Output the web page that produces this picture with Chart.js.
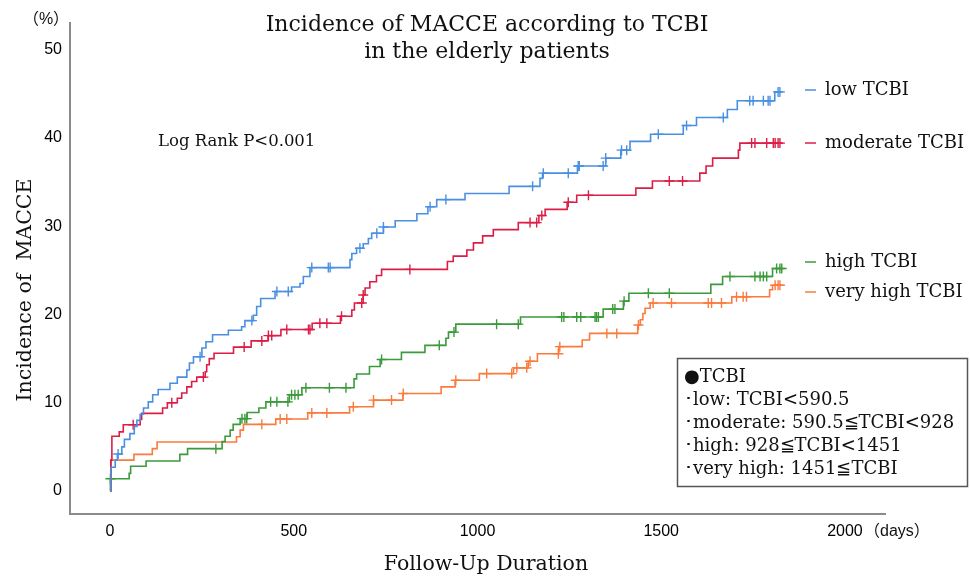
<!DOCTYPE html>
<html><head><meta charset="utf-8">
<script src="https://cdn.jsdelivr.net/npm/chart.js@4.4.1/dist/chart.umd.min.js"></script>
<style>html,body{margin:0;padding:0;background:#fff;}#wrap{width:970px;height:577px;}</style>
</head><body><div id="wrap"><canvas id="c" width="970" height="577"></canvas></div>
<script>
// ---- data ----
const xTicks = [0, 500, 1000, 1500, 2000];
const yTicks = [0, 10, 20, 30, 40, 50];
const seriesNames = ['low TCBI', 'moderate TCBI', 'high TCBI', 'very high TCBI'];

const lowDays = [0,2,14,20,32,39,54,66,73,82,91,104,116,131,163,183,209,216,227,250,261,279,322,358,367,390,399,410,449,494,517,526,544,653,658,671,689,703,712,744,776,835,865,889,966,1086,1170,1177,1272,1349,1390,1415,1471,1560,1596,1680,1707,1809,1828];
const lowVals = [0,2.7,3.5,4.2,5.0,5.85,6.5,7.3,8.0,8.7,9.4,10.1,10.9,11.5,12.2,12.9,13.7,14.5,15.2,16.2,16.9,17.7,18.2,18.6,19.3,19.9,20.9,21.8,22.6,23.1,23.5,24.3,25.3,26.2,26.9,27.5,28.0,28.6,29.2,29.9,30.6,31.4,32.2,33.0,33.7,34.5,35.4,36.0,36.8,37.7,38.6,39.6,40.4,41.4,42.3,43.2,44.2,45.2,45.2];
const lowCensorDays = [22,245,386,454,485,549,594,599,680,726,744,871,914,1150,1179,1247,1274,1277,1342,1349,1392,1406,1492,1569,1669,1741,1750,1778,1791,1796,1818,1823];
const lowCensorVals = [4.2,15.2,19.3,22.6,22.6,25.3,25.3,25.3,27.5,29.2,29.9,32.2,33.0,34.5,36.0,36.0,36.8,36.8,36.8,37.7,38.6,38.6,40.4,41.4,42.3,44.2,44.2,44.2,44.2,44.2,45.2,45.2];

const modDays = [0,2,5,25,36,82,86,143,156,183,195,209,222,236,259,263,270,283,336,384,430,465,550,627,658,665,689,694,707,725,739,918,934,971,989,1014,1043,1111,1167,1184,1244,1270,1431,1476,1605,1622,1640,1710,1714,1830];
const modVals = [0,3.5,6.2,6.7,7.5,8.1,8.8,9.4,10.0,10.5,11.1,11.8,12.4,12.9,13.5,14.3,15.0,15.6,16.3,17.0,17.6,18.3,19.0,19.8,20.5,21.3,22.2,23.0,23.7,24.4,25.1,26.0,26.6,27.3,28.1,28.9,29.6,30.4,31.2,31.9,32.7,33.5,34.3,35.1,36.0,36.8,37.7,38.6,39.4,39.4];
const modCensorDays = [63,168,254,365,413,431,440,481,540,544,571,590,630,685,689,816,1143,1161,1175,1247,1302,1522,1558,1746,1755,1787,1805,1810,1818,1823];
const modCensorVals = [7.5,10.0,12.9,16.3,17.0,17.6,17.6,18.3,18.3,18.3,19.0,19.0,19.8,21.3,22.2,25.1,30.4,30.4,31.2,32.7,33.5,35.1,35.1,39.4,39.4,39.4,39.4,39.4,39.4,39.4];

const highDays = [0,1,52,56,98,190,211,305,313,327,335,354,373,405,424,488,522,664,671,706,735,793,857,914,921,941,1117,1342,1397,1412,1635,1667,1803,1830];
const highVals = [0,1.4,2.0,2.8,3.4,4.15,4.8,5.6,6.2,6.9,7.55,8.2,8.9,9.4,10.1,10.9,11.7,12.7,13.25,14.1,14.9,15.7,16.5,17.3,18.0,18.9,19.7,20.6,21.5,22.4,23.4,24.3,25.2,25.2];
const highCensorDays = [1,288,359,367,372,437,454,484,494,503,512,533,597,642,739,896,936,1052,1111,1229,1235,1270,1281,1320,1324,1329,1368,1374,1399,1465,1522,1687,1755,1769,1778,1787,1814,1823,1828];
const highCensorVals = [1.4,4.8,8.2,8.2,8.2,10.1,10.1,10.1,10.9,10.9,10.9,11.7,11.7,11.7,14.9,16.5,18.0,18.9,18.9,19.7,19.7,19.7,19.7,19.7,19.7,19.7,20.6,20.6,21.5,22.4,22.4,24.3,24.3,24.3,24.3,24.3,25.2,25.2,25.2];

const vhighDays = [0,3,65,115,128,344,354,363,451,538,652,717,797,901,939,1005,1098,1138,1163,1221,1285,1305,1436,1443,1450,1456,1470,1692,1795,1803,1830];
const vhighVals = [0,3.5,4.15,4.8,5.55,6.15,6.9,7.55,8.15,8.85,9.55,10.3,11.05,11.8,12.55,13.3,13.95,14.7,15.55,16.35,17.1,17.85,18.8,19.4,20.1,20.7,21.3,22.0,22.8,23.3,23.3];
const vhighCensorDays = [413,463,481,549,590,662,717,766,798,941,1025,1093,1107,1134,1143,1220,1224,1352,1379,1438,1478,1528,1628,1637,1664,1705,1723,1732,1810,1818,1823];
const vhighCensorVals = [7.55,8.15,8.15,8.85,8.85,9.55,10.3,10.3,11.05,12.55,13.3,13.3,13.95,13.95,14.7,15.55,16.35,17.85,17.85,18.8,21.3,21.3,21.3,21.3,21.3,22.0,22.0,22.0,23.3,23.3,23.3];

const boxLines = ['●TCBI', '･low: TCBI<590.5', '･moderate: 590.5≦TCBI<928', '･high: 928≦TCBI<1451', '･very high: 1451≦TCBI'];

// ---- styling ----
const colors = ['#4a90e2', '#dc1d47', '#3b9a3b', '#fa7b3e'];
const SERIF = "'DejaVu Serif', 'Liberation Serif', serif";
const SANS = "'Liberation Sans', Arial, 'Noto Sans CJK JP', sans-serif";

function pts(xs, ys) { return xs.map((x, i) => ({ x: x, y: ys[i] })); }
const curves = [[lowDays, lowVals], [modDays, modVals], [highDays, highVals], [vhighDays, vhighVals]];
const censors = [[lowCensorDays, lowCensorVals], [modCensorDays, modCensorVals], [highCensorDays, highCensorVals], [vhighCensorDays, vhighCensorVals]];

const datasets = [];
curves.forEach((c, i) => {
  datasets.push({ label: seriesNames[i], data: pts(c[0], c[1]), borderColor: colors[i], borderWidth: 1.6,
    stepped: true, pointRadius: 0, fill: false, tension: 0 });
});
censors.forEach((c, i) => {
  datasets.push({ label: seriesNames[i] + ' censored', data: pts(c[0], c[1]), showLine: false,
    pointStyle: 'cross', pointRadius: 5, pointBorderWidth: 1.4, borderColor: colors[i], backgroundColor: colors[i] });
});

const legendY = [90, 143, 262, 292];

const textPlugin = {
  id: 'texts',
  afterDraw(chart) {
    const ctx = chart.ctx;
    ctx.save();
    ctx.fillStyle = '#111';
    ctx.textBaseline = 'middle';
    // title
    ctx.textAlign = 'center';
    ctx.font = '22px ' + SERIF;
    ctx.fillText('Incidence of MACCE according to TCBI', 487, 25);
    ctx.fillText('in the elderly patients', 487, 52);
    // unit labels
    ctx.font = '16px ' + SANS;
    ctx.fillText('（%）', 46, 20);
    ctx.textAlign = 'left';
    ctx.fillText('（days）', 864, 532);
    // axis titles
    ctx.textAlign = 'center';
    ctx.font = '20.5px ' + SERIF;
    ctx.fillText('Follow-Up Duration', 486, 565);
    ctx.save();
    ctx.translate(26, 290);
    ctx.rotate(-Math.PI / 2);
    ctx.fillText('Incidence of  MACCE', 0, 0);
    ctx.restore();
    // log rank
    ctx.textAlign = 'left';
    ctx.font = '16.5px ' + SERIF;
    ctx.fillText('Log Rank P<0.001', 158, 142);
    // legend
    ctx.font = '18px ' + SERIF;
    seriesNames.forEach((n, i) => {
      ctx.strokeStyle = colors[i];
      ctx.lineWidth = 1.5;
      ctx.beginPath();
      ctx.moveTo(805, legendY[i]);
      ctx.lineTo(816, legendY[i]);
      ctx.stroke();
      ctx.fillStyle = '#111';
      ctx.fillText(n, 825, legendY[i]);
    });
    // box
    ctx.strokeStyle = '#555';
    ctx.lineWidth = 1.5;
    ctx.strokeRect(677.5, 358.5, 290, 128);
    ctx.font = '18px ' + SERIF;
    boxLines.forEach((t, i) => {
      ctx.fillText(t, 684, 377 + i * 23);
    });
    ctx.restore();
  }
};

new Chart(document.getElementById('c'), {
  type: 'line',
  data: { datasets: datasets },
  options: {
    responsive: false,
    animation: false,
    devicePixelRatio: 1,
    layout: { padding: { left: 0, right: 85, top: 23, bottom: 0 } },
    plugins: { legend: { display: false }, title: { display: false }, tooltip: { enabled: false } },
    scales: {
      x: {
        type: 'linear', min: -109, max: 2109,
        afterBuildTicks: (s) => { s.ticks = xTicks.map(v => ({ value: v })); },
        afterFit: (s) => { s.height = 63; },
        grid: { display: false, drawTicks: false },
        border: { display: true, color: '#8a8a8a', width: 2 },
        ticks: { padding: 8, color: '#000', font: { family: SANS, size: 16 }, maxRotation: 0, autoSkip: false,
          callback: (v) => String(v) }
      },
      y: {
        type: 'linear', min: -2.6, max: 53,
        afterBuildTicks: (s) => { s.ticks = yTicks.map(v => ({ value: v })); },
        afterFit: (s) => { s.width = 70; },
        grid: { display: false, drawTicks: false },
        border: { display: true, color: '#8a8a8a', width: 2 },
        ticks: { padding: 8, color: '#000', font: { family: SANS, size: 16 }, callback: (v) => String(v) }
      }
    }
  },
  plugins: [textPlugin]
});
</script></body></html>
